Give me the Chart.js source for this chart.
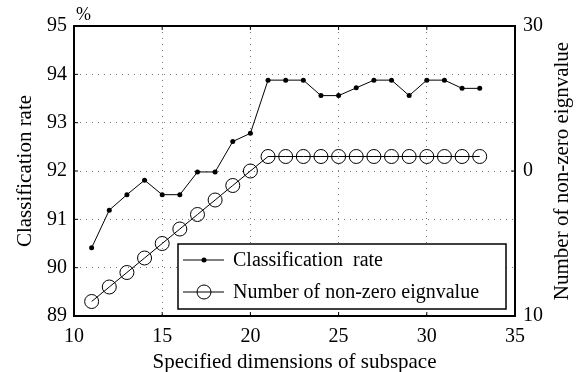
<!DOCTYPE html>
<html>
<head>
<meta charset="utf-8">
<script src="https://cdn.jsdelivr.net/npm/chart.js@4.4.0/dist/chart.umd.min.js"></script>
<style>
  html, body { margin: 0; padding: 0; background: #fff; }
  #wrap { width: 580px; height: 372px; font-family: "Liberation Serif", serif; }
</style>
</head>
<body>
<div id="wrap"><canvas id="rateChart" width="580" height="372"></canvas></div>
<script>
// data
const dims = [11, 12, 13, 14, 15, 16, 17, 18, 19, 20, 21, 22, 23, 24, 25, 26, 27, 28, 29, 30, 31, 32, 33];
const classRate = [90.41, 91.19, 91.51, 91.81, 91.51, 91.51, 91.98, 91.98, 92.61, 92.78, 93.88, 93.88, 93.88,
                   93.56, 93.56, 93.72, 93.88, 93.88, 93.56, 93.88, 93.88, 93.71, 93.71];
const eigenCount = [-27, -24, -21, -18, -15, -12, -9, -6, -3, 0, 3, 3, 3, 3, 3, 3, 3, 3, 3, 3, 3, 3, 3];
const rightTickValues = [-30, 0, 30];
const rightTickLabels = ['10', '0', '30'];

const FONT = "'Liberation Serif', serif";
Chart.defaults.font.family = FONT;

// frame, inward ticks, legend box and the extra labels
const decorPlugin = {
    id: 'decor',
    afterDatasetsDraw(chart) {
        const ctx = chart.ctx;
        const a = chart.chartArea;
        const xs = chart.scales.x, ys = chart.scales.y, y1 = chart.scales.y1;
        ctx.save();
        ctx.strokeStyle = '#000';
        ctx.lineWidth = 1;
        // inward ticks
        ctx.beginPath();
        xs.ticks.forEach(t => {
            const px = xs.getPixelForValue(t.value);
            ctx.moveTo(px, a.bottom); ctx.lineTo(px, a.bottom - 4);
            ctx.moveTo(px, a.top); ctx.lineTo(px, a.top + 4);
        });
        ys.ticks.forEach(t => {
            const py = ys.getPixelForValue(t.value);
            ctx.moveTo(a.left, py); ctx.lineTo(a.left + 4, py);
        });
        y1.ticks.forEach(t => {
            const py = y1.getPixelForValue(t.value);
            ctx.moveTo(a.right, py); ctx.lineTo(a.right - 4, py);
        });
        ctx.stroke();

        // box
        ctx.lineWidth = 2;
        ctx.strokeRect(a.left, a.top, a.right - a.left, a.bottom - a.top);

        // legend
        const lx = 178, ly = 244, lw = 328, lh = 65;
        ctx.fillStyle = '#fff';
        ctx.fillRect(lx, ly, lw, lh);
        ctx.lineWidth = 1.5;
        ctx.strokeRect(lx, ly, lw, lh);
        ctx.lineWidth = 1;
        ctx.font = '20px ' + FONT;
        ctx.textBaseline = 'middle';
        chart.data.datasets.forEach((ds, i) => {
            const rowY = ly + 16 + i * 32;
            ctx.beginPath();
            ctx.moveTo(lx + 5, rowY); ctx.lineTo(lx + 46, rowY);
            ctx.stroke();
            ctx.beginPath();
            ctx.arc(lx + 26, rowY, ds.pointRadius, 0, Math.PI * 2);
            if (i === 0) { ctx.fillStyle = '#000'; ctx.fill(); }
            else ctx.stroke();
            ctx.fillStyle = '#000';
            ctx.fillText(ds.label, lx + 55, rowY + 1);
        });

        // percent sign and right axis title
        ctx.font = '18px ' + FONT;
        ctx.textAlign = 'left';
        ctx.textBaseline = 'middle';
        ctx.fillText('%', 76, 15);
        ctx.font = '21px ' + FONT;
        ctx.translate(562, (a.top + a.bottom) / 2);
        ctx.rotate(-Math.PI / 2);
        ctx.textAlign = 'center';
        ctx.fillText('Number of non-zero eignvalue', 0, 0);
        ctx.restore();
    }
};

function drawChart() {
    const ctx = document.getElementById('rateChart').getContext('2d');
    new Chart(ctx, {
        type: 'line',
        data: {
            datasets: [{
                label: 'Classification  rate',
                data: dims.map((d, i) => ({ x: d, y: classRate[i] })),
                yAxisID: 'y',
                borderColor: '#000',
                borderWidth: 1,
                pointRadius: 2.5,
                pointBackgroundColor: '#000',
                pointBorderColor: '#000',
                pointBorderWidth: 0,
                tension: 0
            }, {
                label: 'Number of non-zero eignvalue',
                data: dims.map((d, i) => ({ x: d, y: eigenCount[i] })),
                yAxisID: 'y1',
                borderColor: '#000',
                borderWidth: 1,
                pointRadius: 7,
                pointBackgroundColor: 'rgba(0,0,0,0)',
                pointBorderColor: '#000',
                pointBorderWidth: 1,
                tension: 0
            }]
        },
        options: {
            responsive: false,
            animation: false,
            layout: { padding: { top: 26, left: 0, right: 0, bottom: 0 } },
            plugins: { legend: { display: false }, tooltip: { enabled: false } },
            scales: {
                x: {
                    type: 'linear',
                    min: 10, max: 35,
                    afterFit: s => { s.height = 56; },
                    ticks: { stepSize: 5, padding: 9, color: '#000', font: { family: FONT, size: 20 } },
                    grid: { color: '#777', drawTicks: false },
                    border: { display: false, dash: [1, 5] },
                    title: {
                        display: true, text: 'Specified dimensions of subspace', color: '#000',
                        font: { family: FONT, size: 21 }, padding: { top: 0, bottom: -3 }
                    }
                },
                y: {
                    position: 'left',
                    min: 89, max: 95,
                    afterFit: s => { s.width = 74; },
                    ticks: { stepSize: 1, padding: 7, color: '#000', font: { family: FONT, size: 20 } },
                    grid: { color: '#777', drawTicks: false },
                    border: { display: false, dash: [1, 5] },
                    title: {
                        display: true, text: 'Classification rate', color: '#000',
                        font: { family: FONT, size: 21 }, padding: { top: 13, bottom: 0 }
                    }
                },
                y1: {
                    position: 'right',
                    min: -30, max: 30,
                    afterFit: s => { s.width = 65; },
                    afterBuildTicks: s => { s.ticks = rightTickValues.map(v => ({ value: v })); },
                    ticks: {
                        padding: 8, color: '#000', font: { family: FONT, size: 20 },
                        callback: v => rightTickLabels[rightTickValues.indexOf(v)]
                    },
                    grid: { drawOnChartArea: false, drawTicks: false },
                    border: { display: false }
                }
            }
        },
        plugins: [decorPlugin]
    });
}

document.fonts.load("20px 'Liberation Serif'").then(drawChart, drawChart);
</script>
</body>
</html>
